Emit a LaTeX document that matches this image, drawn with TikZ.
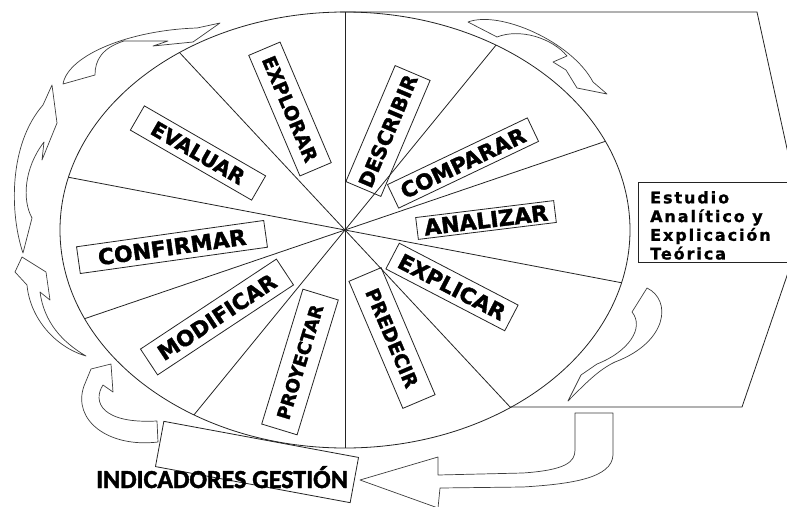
\documentclass[tikz,border=0pt]{standalone}
\usepackage{fontspec}
\usepackage{tikz}
\usetikzlibrary{calc}
\newfontfamily\verdfont{DejaVu Sans Bold}[FakeBold=1.6]
\newfontfamily\estfont{DejaVu Sans Bold}[LetterSpace=12, FakeBold=1.2]
\newfontfamily\carlfont{Carlito Bold}[FakeBold=1.6]
\definecolor{cLine}{RGB}{35,35,35}
\definecolor{cArrow}{RGB}{60,60,60}
\tikzset{
  lbl/.style={draw=cLine, line width=0.8pt, inner sep=0pt, align=center,
              font=\verdfont\fontsize{#1}{#1}\selectfont},
  rim/.style={draw=cLine, line width=0.8pt},
  barr/.style={draw=cArrow, line width=0.7pt, line join=round},
}

\begin{document}
\begin{tikzpicture}[x=1pt, y=-1pt]
\useasboundingbox (0,0) rectangle (787,506);
\coordinate (c) at (345,230);

% wheel
\draw[rim] (c) ellipse [x radius=285, y radius=218];
\foreach \t in {90,125.5,166,204,238}
  \draw[rim] ($(c)+(-\t:285 and 218)$) -- ($(c)+(180-\t:285 and 218)$);

% right panel
\draw[rim] (340,12) -- (757,12) -- (804,226) -- (742,407) -- (510,407);
\node[rim, fill=white, minimum width=172pt, minimum height=80pt, anchor=north west] (estbox) at (638,182) {};
\node[font=\estfont\fontsize{16}{18.7}\selectfont, align=left, anchor=north west, inner sep=0pt]
  (estudio) at (650,191) {Estudio\\Analítico y\\Explicación\\Teórica};

% sector labels
\node[lbl=19, minimum width=131pt, minimum height=34pt, rotate=-67] (explorar) at (290,109) {EXPLORAR};
\node[lbl=20.5, minimum width=140pt, minimum height=28pt, rotate=-30] (evaluar) at (198,153) {EVALUAR};
\node[lbl=22, minimum width=189pt, minimum height=27pt, rotate=8] (confirmar) at (172,247) {CONFIRMAR};
\node[lbl=21.5, minimum width=163pt, minimum height=31pt, rotate=33.5] (modificar) at (217,317) {MODIFICAR};
\node[lbl=18, minimum width=141pt, minimum height=37pt, rotate=73] (proyectar) at (300,362) {PROYECTAR};
\node[lbl=19, minimum width=138pt, minimum height=35pt, rotate=-67] (predecir) at (392,338) {PREDECIR};
\node[lbl=21.5, minimum width=134pt, minimum height=29pt, rotate=-27.5] (explicar) at (452,287) {EXPLICAR};
\node[lbl=22, minimum width=139pt, minimum height=22pt, rotate=7] (analizar) at (486,220) {ANALIZAR};
\node[lbl=21.5, minimum width=155pt, minimum height=26pt, rotate=25.5] (comparar) at (463,163) {COMPARAR};
\node[lbl=20, minimum width=126pt, minimum height=38pt, rotate=67] (describir) at (388,131) {DESCRIBIR};

% indicators
\node[rim, minimum width=198pt, minimum height=46pt, rotate=-10.5] (indbox) at (257,462) {};
\node[font=\carlfont\fontsize{26}{26}\selectfont, anchor=base, inner sep=0pt] (ind) at (222,488) {INDICADORES GESTIÓN};

% flow arrows around the wheel
\draw[barr] (63,84) .. controls (68,55) and (130,30) .. (197,28) -- (220,23) -- (193,42) -- (153,46)
  -- (168,41) -- (124,41) .. controls (102,48) and (95,60) .. (95,75) -- cycle;
\draw[barr] (23,253) .. controls (10,215) and (8,145) .. (43,105) -- (52,85) -- (57,123) -- (42,160)
  -- (44,142) .. controls (24,168) and (22,200) .. (32,218) -- cycle;
\draw[barr] (22,257) -- (46,272) -- (50,300) -- (40,292) .. controls (44,322) and (62,342) .. (86,356)
  .. controls (55,347) and (30,318) .. (27,285) -- (15,272) -- cycle;
\draw[barr] (158,442) .. controls (108,448) and (72,420) .. (84,386) -- (91,369) -- (111,364) -- (113,392)
  -- (103,385) .. controls (92,402) and (102,424) .. (157,421) -- cycle;
\draw[barr] (468,22) .. controls (500,10) and (572,42) .. (593,82) -- (607,94) -- (577,88) -- (566,70)
  -- (553,62) -- (567,56) .. controls (552,38) and (520,28) .. (497,37) -- cycle;
\draw[barr] (647,288) .. controls (672,300) and (668,342) .. (615,362) .. controls (598,370) and (584,385) .. (568,401)
  -- (581,375) -- (597,364) .. controls (628,352) and (645,328) .. (632,312) -- cycle;
\draw[barr] (575,413) -- (613,413) -- (613,455) .. controls (612,478) and (572,484) .. (523,487)
  -- (440,488) -- (438,508) -- (360,480) -- (438,457) -- (438,475) -- (523,473)
  .. controls (566,470) and (575,462) .. (575,450) -- cycle;
\end{tikzpicture}
\end{document}
